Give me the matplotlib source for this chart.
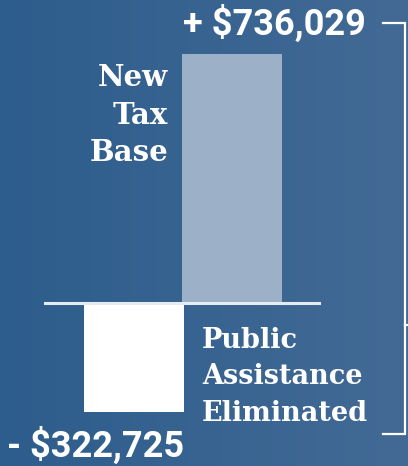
import numpy as np
import matplotlib.pyplot as plt
from matplotlib.colors import LinearSegmentedColormap

# data
categories = ['New Tax Base', 'Public Assistance Eliminated']
values = [736029, -322725]
value_labels = ['+ $736,029', '- $322,725']
bar_colors = ['#9cb1c8', '#ffffff']

W, H = 408, 466
fig = plt.figure(figsize=(W / 100, H / 100), dpi=100)
ax = fig.add_axes([0, 0, 1, 1])

# y scale: zero at 303 px from top, top of tallest bar at 54 px
per_px = values[0] / (303 - 54)
y_top = 303 * per_px
y_bot = -(H - 303) * per_px
ax.set_xlim(0, W)
ax.set_ylim(y_bot, y_top)
ax.axis('off')

# gradient background
bg = LinearSegmentedColormap.from_list('bg', ['#2d5d8c', '#436a95'])
grad = np.linspace(0, 1, 256).reshape(1, -1)
ax.imshow(grad, cmap=bg, aspect='auto', extent=[0, W, y_bot, y_top], zorder=0)

# bars
x_pos = [232, 134]
ax.bar(x_pos, values, width=100, color=bar_colors, zorder=2)
ax.plot([45, 319], [0, 0], color='#e6ebf2', lw=2.2, zorder=3)

val_font = dict(family=['Roboto', 'DejaVu Sans'], weight='bold', color='white')
lab_font = dict(family=['DejaVu Serif'], weight='bold', color='white')

ax.text(183, y_top - 24 * per_px, value_labels[0], fontsize=26,
        ha='left', va='center', **val_font)
ax.text(7, y_top - 446 * per_px, value_labels[1], fontsize=26,
        ha='left', va='center', **val_font)

ax.text(168, y_top - 115 * per_px, 'New\nTax\nBase', fontsize=21,
        ha='right', va='center', linespacing=1.38, **lab_font)
ax.text(202, y_top - 377 * per_px, 'Public\nAssistance\nEliminated', fontsize=19.5,
        ha='left', va='center', linespacing=1.45, **lab_font)

# bracket on the right
bx = 405
by0, by1, bmid = y_top - 23 * per_px, y_top - 434 * per_px, y_top - 325 * per_px
ax.plot([383, bx, bx, 383], [by0, by0, by1, by1], color='white', lw=1.6,
        solid_joinstyle='miter', zorder=3)
ax.plot([bx, 410], [bmid, bmid], color='white', lw=1.6, zorder=3)

fig.savefig('out.png', dpi=100)
